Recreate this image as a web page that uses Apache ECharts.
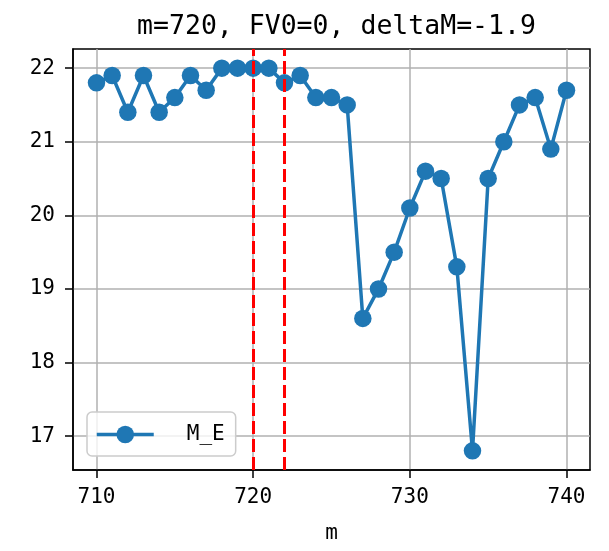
<!DOCTYPE html>
<html>
<head>
<meta charset="utf-8">
<script src="https://cdn.jsdelivr.net/npm/echarts@6/dist/echarts.min.js"></script>
<style>
html,body{margin:0;padding:0;background:#fff;}
#chart{width:609px;height:551px;}
</style>
</head>
<body>
<div id="chart"></div>
<script>
const titleText = "m=720, FV0=0, deltaM=-1.9";
const xName = "m";
const seriesName = "M_E";
const mValues = [710,711,712,713,714,715,716,717,718,719,720,721,722,723,724,725,726,727,728,729,730,731,732,733,734,735,736,737,738,739,740];
const meValues = [21.8,21.9,21.4,21.9,21.4,21.6,21.9,21.7,22.0,22.0,22.0,22.0,21.8,21.9,21.6,21.6,21.5,18.6,19.0,19.5,20.1,20.6,20.5,19.3,16.8,20.5,21.0,21.5,21.6,20.9,21.7];
const vLines = [720, 722];
const xTicks = [710, 720, 730, 740];
const yTicks = [17, 18, 19, 20, 21, 22];
const xRange = [708.5, 741.5];
const yRange = [16.54, 22.26];

const FONT = "'DejaVu Sans Mono', monospace";
const chart = echarts.init(document.getElementById('chart'), null, {renderer: 'canvas'});
const data = mValues.map((m, i) => [m, meValues[i]]);
chart.setOption({
  animation: false,
  backgroundColor: '#fff',
  title: {
    text: titleText,
    left: 331.5,
    textAlign: 'center',
    top: 9,
    textStyle: {fontFamily: FONT, fontSize: 26.5, fontWeight: 'normal', color: '#000'}
  },
  grid: {left: 73, top: 49, right: 19, bottom: 81, show: true, borderColor: '#000', borderWidth: 1.5, backgroundColor: 'transparent'},
  xAxis: {
    type: 'value', min: xRange[0], max: xRange[1],
    name: xName, nameLocation: 'middle', nameGap: 53,
    nameTextStyle: {fontFamily: FONT, fontSize: 21, color: '#000'},
    axisLine: {show: true, lineStyle: {color: '#000', width: 1.5}},
    axisTick: {show: true, inside: false, length: 8, lineStyle: {color: '#000', width: 1.5}, customValues: xTicks},
    axisLabel: {fontFamily: FONT, fontSize: 21, color: '#000', margin: 17, customValues: xTicks},
    splitLine: {show: true, lineStyle: {color: '#b0b0b0', width: 1.5}}
  },
  yAxis: {
    type: 'value', min: yRange[0], max: yRange[1],
    axisLine: {show: true, lineStyle: {color: '#000', width: 1.5}},
    axisTick: {show: true, inside: false, length: 8, lineStyle: {color: '#000', width: 1.5}, customValues: yTicks},
    axisLabel: {fontFamily: FONT, fontSize: 21, color: '#000', margin: 18, customValues: yTicks},
    splitLine: {show: true, lineStyle: {color: '#b0b0b0', width: 1.5}}
  },
  legend: {
    left: 87, top: 412,
    padding: [12, 11, 11, 8],
    backgroundColor: 'rgba(255,255,255,0.8)',
    borderColor: '#cccccc', borderWidth: 1.5, borderRadius: 5,
    itemWidth: 57, itemHeight: 22,
    lineStyle: {width: 3.5},
    textStyle: {fontFamily: FONT, fontSize: 21, color: '#000', padding: [0, 0, 0, 28]},
    data: [seriesName]
  },
  series: [{
    name: seriesName,
    type: 'line',
    data: data,
    symbol: 'circle',
    symbolSize: 17.5,
    color: '#1f77b4',
    lineStyle: {color: '#1f77b4', width: 3.5},
    itemStyle: {color: '#1f77b4'},
    z: 2,
    markLine: {
      silent: true,
      symbol: ['none', 'none'],
      label: {show: false},
      lineStyle: {color: '#ff0000', width: 3, type: [13, 5]},
      data: vLines.map(v => ({xAxis: v})),
      z: 3
    }
  }]
});
</script>
</body>
</html>
